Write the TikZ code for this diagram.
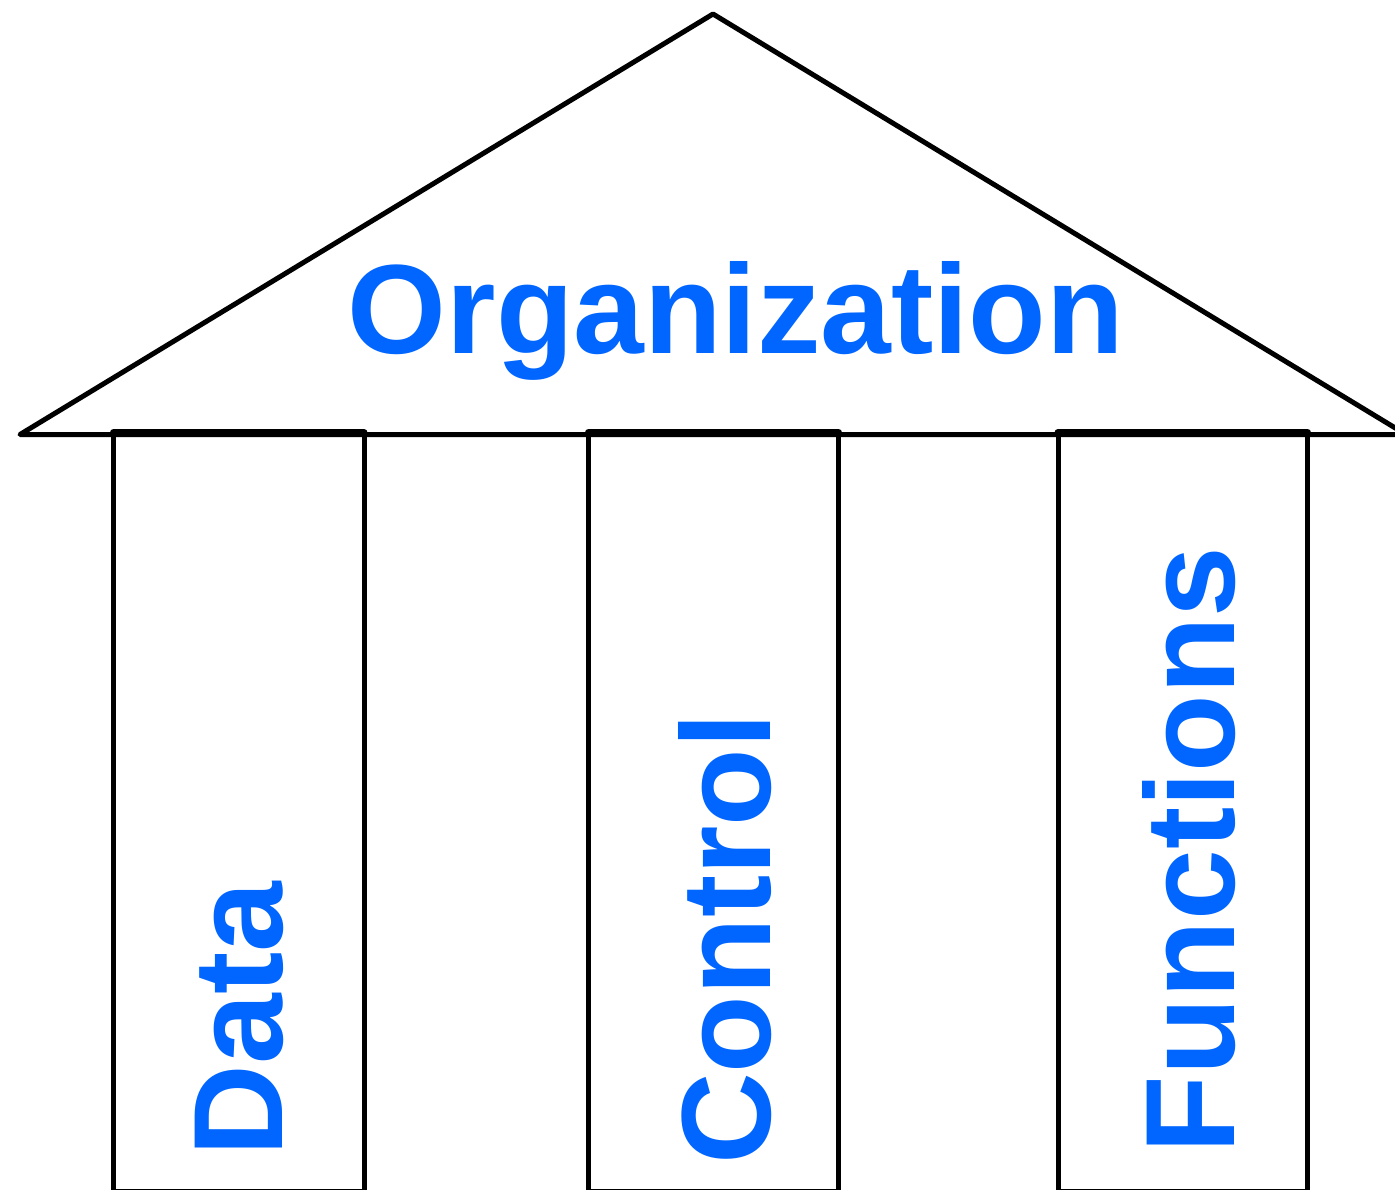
\documentclass[tikz,border=0pt]{standalone}
\usepackage{fontspec}
\setmainfont{Liberation Sans}
\definecolor{lblue}{RGB}{0,102,255}
\tikzset{
  edge/.style={draw=black,line width=5pt,line join=round,line cap=round},
  pillar/.style={draw=black,line width=5pt,line join=round},
  lintel/.style={draw=black,line width=7pt,line cap=round},
  label/.style={inner sep=0pt,text=lblue,font=\bfseries\fontsize{127}{150}\selectfont}
}
\begin{document}
\begin{tikzpicture}[x=1pt,y=-1pt]
\useasboundingbox (0,0) rectangle (1395,1190);
\clip (0,0) rectangle (1395,1190);
\fill[white] (0,0) rectangle (1395,1190);
% roof
\draw[edge] (20,434.5) -- (713,14) -- (1406,434.5) -- cycle;
% pillars
\draw[pillar] (113.5,432) rectangle (364,1191.5);
\draw[pillar] (588.5,432) rectangle (838.5,1191.5);
\draw[pillar] (1058,432) rectangle (1307.5,1191.5);
\draw[lintel] (113.5,432.5) -- (364,432.5);
\draw[lintel] (588.5,432.5) -- (838.5,432.5);
\draw[lintel] (1058,432.5) -- (1307.5,432.5);
% texts
\node[label,anchor=base] (org) at (736,353) {Organization};
\node[label,anchor=base,rotate=90] (data) at (282,1019) {Data};
\node[label,anchor=base,rotate=90] (ctrl) at (770,939) {Control};
\node[label,anchor=base,rotate=90] (func) at (1234,850) {Functions};
\end{tikzpicture}
\end{document}
